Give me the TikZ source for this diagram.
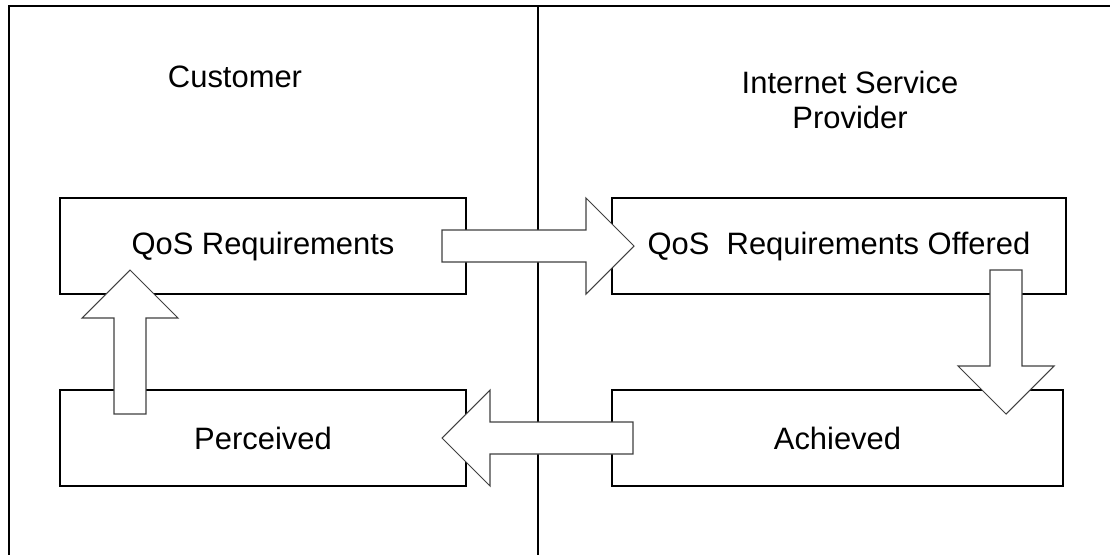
\documentclass[tikz,border=0pt]{standalone}
\usepackage{fontspec}
\setmainfont{Liberation Sans}
\usetikzlibrary{calc}

\tikzset{
  box/.style={draw, line width=1.1pt, minimum height=1.92cm, inner sep=0pt},
  fatarrow/.style={draw=black!75, line width=0.6pt, fill=white, line join=miter},
}

% hollow block arrow: name, tail, tip
\newcommand{\hollowarrow}[3]{%
  \coordinate (#1-b) at ($(#3)!0.96cm!(#2)$);
  \draw[fatarrow] ($(#2)!0.32cm!90:(#3)$) -- ($(#1-b)!0.32cm!90:(#3)$)
    -- ($(#1-b)!0.96cm!90:(#3)$) -- (#3) -- ($(#1-b)!0.96cm!-90:(#3)$)
    -- ($(#1-b)!0.32cm!-90:(#3)$) -- ($(#2)!0.32cm!-90:(#3)$) -- cycle;}

\begin{document}
\begin{tikzpicture}[x=0.02cm, y=-0.02cm, every node/.style={font=\fontsize{17.6}{20}\selectfont}]
  \useasboundingbox (0,0) rectangle (1110,555);

  % frame and divider
  \draw[line width=1.1pt] (9,555) -- (9,6) -- (1110,6);
  \draw[line width=1.1pt] (538,6) -- (538,555);

  \node (cust) at (235,77) {Customer};
  \node[align=center] (isp) at (850,100) {Internet Service\\Provider};

  \node[box, minimum width=8.12cm] (req) at (263,246) {QoS Requirements};
  \node[box, minimum width=9.08cm] (offer) at (839,246) {QoS~ Requirements Offered};
  \node[box, minimum width=8.12cm] (perc) at (263,438) {Perceived};
  \node[box, minimum width=9.02cm] (achv) at (837.5,438) {Achieved};

  \coordinate (a1) at (442,246);
  \coordinate (a2) at (634,246);
  \coordinate (b1) at (1006,270);
  \coordinate (b2) at (1006,414);
  \coordinate (c1) at (633,438);
  \coordinate (c2) at (442,438);
  \coordinate (d1) at (130,414);
  \coordinate (d2) at (130,270);

  \hollowarrow{ra}{a1}{a2}
  \hollowarrow{da}{b1}{b2}
  \hollowarrow{la}{c1}{c2}
  \hollowarrow{ua}{d1}{d2}
\end{tikzpicture}
\end{document}
